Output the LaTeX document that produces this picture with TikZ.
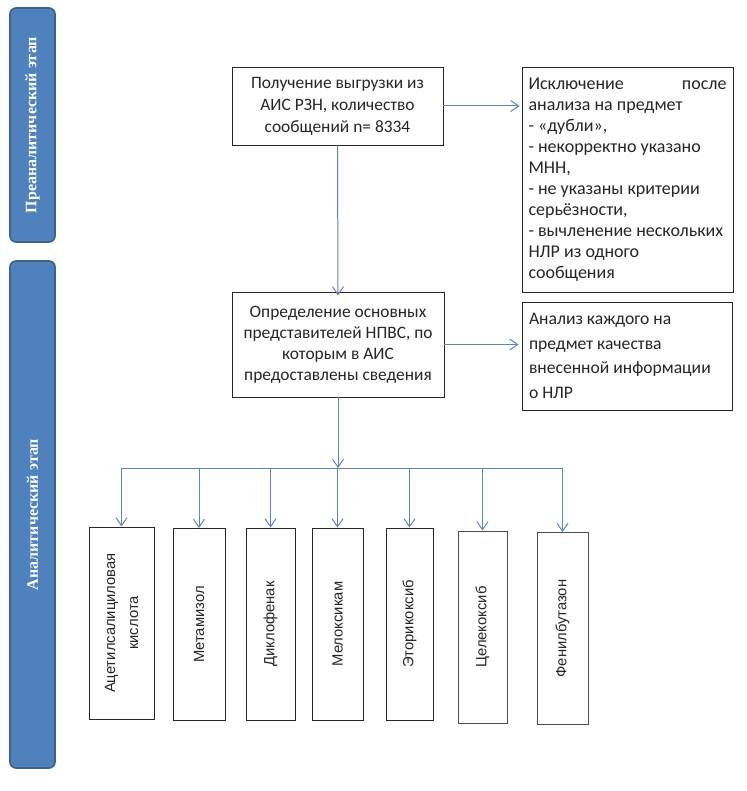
\documentclass[tikz,border=0pt]{standalone}
\usepackage{fontspec}
\setmainfont{Carlito}
\newfontfamily\arialf{Liberation Sans}
\newfontfamily\timesf{Liberation Serif}
\usetikzlibrary{arrows.meta,calc}
\definecolor{sideblue}{HTML}{4F81BD}
\definecolor{sideedge}{HTML}{3B6190}
\definecolor{linkblue}{HTML}{5B86C2}
\definecolor{txt}{HTML}{262626}
\tikzset{
  x=1pt,y=-1pt,
  sidebar/.style={draw=sideedge,line width=1.6pt,fill=sideblue,rounded corners=6pt,
    rotate=90,minimum height=45pt,inner sep=0pt,text=white,
    font=\timesf\bfseries\fontsize{16}{18}\selectfont},
  topbox/.style={draw=black!85,line width=0.9pt,inner sep=0pt,text=txt},
  drugbox/.style={draw=black!85,line width=0.9pt,inner sep=0pt,rotate=90,
    minimum width=192pt,minimum height=65pt,text=txt,align=center,
    font=\arialf\fontsize{14.8}{23}\selectfont},
  link/.style={draw=linkblue,line width=1pt,-{Straight Barb[length=8pt,width=11pt,line width=1pt]}},
  bus/.style={draw=linkblue,line width=1pt}
}
\begin{document}
\begin{tikzpicture}
\useasboundingbox (0,0) rectangle (746,791);
\fill[white] (0,0) rectangle (746,791);
% sidebars
\node[sidebar,minimum width=234pt] (pre) at (32.5,125) {Преаналитический этап};
\node[sidebar,minimum width=507pt] (ana) at (32.5,514.5) {Аналитический этап};
% top boxes
\node[topbox,minimum width=211pt,minimum height=78pt,align=center,
  font=\fontsize{17.4}{22}\selectfont] (get) at (337.5,106)
  {Получение выгрузки из\\АИС РЗН, количество\\сообщений n= 8334};
\node[topbox,minimum width=211pt,minimum height=225pt,text width=198pt,align=flush left,
  font=\fontsize{18}{21}\selectfont] (excl) at (627.5,179.5)
  {Исключение\hfill после\\анализа на предмет\\- «дубли»,\\- некорректно указано\\МНН,\\- не указаны критерии\\серьёзности,\\- вычленение нескольких\\НЛР из одного\\сообщения};
\node[topbox,minimum width=212pt,minimum height=105pt,align=center,
  font=\fontsize{17.4}{21}\selectfont] (def) at (338,344.5)
  {Определение основных\\представителей НПВС, по\\которым в АИС\\предоставлены сведения};
\node[topbox,minimum width=210pt,minimum height=108pt,text width=196pt,align=flush left,
  font=\fontsize{17.6}{24.5}\selectfont] (anl) at (627,356)
  {Анализ каждого на\\предмет качества\\внесенной информации\\о НЛР};
% drug boxes
\node[drugbox] (d1) at (121.5,623) {Ацетилсалициловая\\кислота};
\node[drugbox,minimum height=52pt] (d2) at (199,624.5) {Метамизол};
\node[drugbox,minimum height=49pt] (d3) at (270.5,624) {Диклофенак};
\node[drugbox,minimum height=51pt] (d4) at (337.5,624) {Мелоксикам};
\node[drugbox,minimum height=47pt] (d5) at (409.5,624) {Эторикоксиб};
\node[drugbox,minimum height=49pt,draw=black!70] (d6) at (482.5,627) {Целекоксиб};
\node[drugbox,minimum height=51pt,draw=black!70] (d7) at (562.5,628.5) {Фенилбутазон};
% connectors
\coordinate (busy) at (0,468);
\draw[link] (get.east) -- ([xshift=-2pt]get.east -| excl.west);
\draw[link] (get.south) -- ([yshift=-4pt]def.north);
\draw[link] (def.east) -- ([xshift=-3pt]def.east -| anl.west);
\draw[link] (def.south) -- (def.south |- busy);
\draw[bus] (d1.east |- busy) -- (d7.east |- busy);
\foreach \d in {d1,d2,d3,d4,d5,d6,d7}{
  \draw[link] (\d.east |- busy) -- (\d.east);
}
\end{tikzpicture}
\end{document}
